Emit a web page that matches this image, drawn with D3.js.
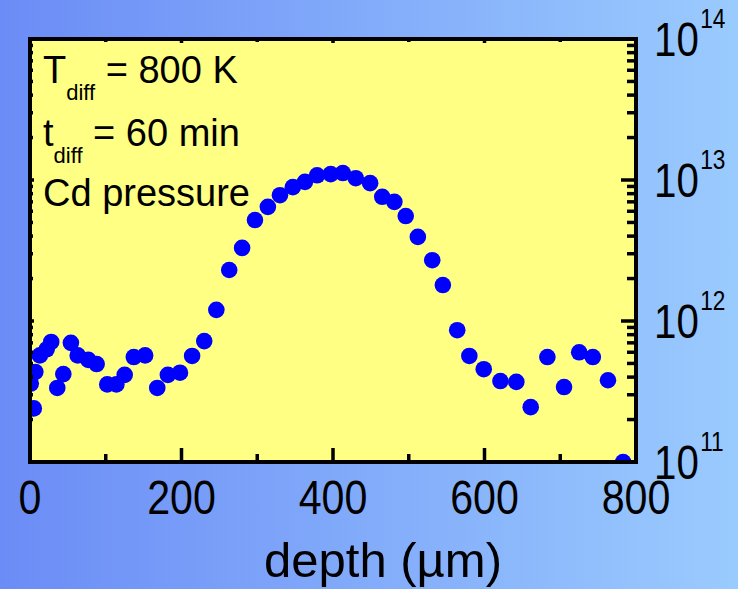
<!DOCTYPE html>
<html>
<head>
<meta charset="utf-8">
<script src="https://cdn.jsdelivr.net/npm/d3@7"></script>
<style>
	html, body { margin: 0; padding: 0; }
	svg { display: block; font-family: "Liberation Sans", Arial, sans-serif; }
</style>
</head>
<body>
<div id="chart"></div>
<script>
// depth (µm) and concentration
var depth = [1, 5, 7, 13, 22, 28, 36, 44, 54, 63, 77, 88, 102, 114, 125, 137, 152, 168, 182, 198,
	214, 230, 246, 263, 280, 297, 314, 330, 347, 363, 379, 397, 413, 430, 449, 465, 481, 496, 512,
	531, 545, 564, 580, 599, 621, 642, 661, 683, 705, 725, 743, 763, 783];
var conc = [3.6e11, 2.4e11, 4.35e11, 5.7e11, 6.3e11, 7.1e11, 3.35e11, 4.2e11, 7.0e11, 5.7e11,
	5.3e11, 4.95e11, 3.55e11, 3.55e11, 4.15e11, 5.55e11, 5.7e11, 3.35e11, 4.15e11, 4.3e11,
	5.65e11, 7.2e11, 1.2e12, 2.3e12, 3.3e12, 5.2e12, 6.45e12, 7.8e12, 8.9e12, 9.7e12,
	1.08e13, 1.10e13, 1.12e13, 1.03e13, 9.5e12, 7.6e12, 7.0e12, 5.55e12, 3.95e12, 2.7e12,
	1.8e12, 8.6e11, 5.65e11, 4.55e11, 3.75e11, 3.7e11, 2.45e11, 5.55e11, 3.4e11, 6.0e11,
	5.55e11, 3.8e11, 1.0e11];
var xTicks = [0, 200, 400, 600, 800];
var xMinorTicks = [100, 300, 500, 700];
var yDecades = [11, 12, 13, 14];
var notes = [
	{ main: "T", sub: "diff", rest: " = 800 K" },
	{ main: "t", sub: "diff", rest: " = 60 min" },
	{ main: "Cd pressure", sub: null, rest: null }
];
var xTitle = "depth (µm)";

var W = 738, H = 589;
var margin = { top: 39, right: 102, bottom: 127, left: 30 };
var pw = W - margin.left - margin.right;
var ph = H - margin.top - margin.bottom;

var svg = d3.select("#chart").append("svg")
	.attr("width", W)
	.attr("height", H);

var defs = svg.append("defs");
var grad = defs.append("linearGradient")
	.attr("id", "bg")
	.attr("x1", "0%").attr("y1", "0%")
	.attr("x2", "100%").attr("y2", "0%");
grad.append("stop").attr("offset", "0%").attr("stop-color", "#6b8cf6");
grad.append("stop").attr("offset", "100%").attr("stop-color", "#9acbfe");

defs.append("clipPath").attr("id", "plotclip")
	.append("rect")
	.attr("x", 0).attr("y", 0)
	.attr("width", pw).attr("height", ph);

svg.append("rect")
	.attr("width", W).attr("height", H)
	.attr("fill", "url(#bg)");

var x = d3.scaleLinear().domain([0, 800]).range([0, pw]);
var y = d3.scaleLog().domain([1e11, 1e14]).range([ph, 0]);

var g = svg.append("g")
	.attr("transform", "translate(" + margin.left + "," + margin.top + ")");

g.append("rect")
	.attr("width", pw).attr("height", ph)
	.attr("fill", "#ffff84");

// annotation
notes.forEach(function(n, i) {
	var t = g.append("text")
		.attr("x", 13)
		.attr("y", [44, 107, 167][i])
		.attr("font-size", 38)
		.attr("fill", "#000");
	t.append("tspan").text(n.main);
	if (n.sub) {
		t.append("tspan").attr("font-size", 22).attr("dy", 17).text(n.sub);
		t.append("tspan").attr("dy", -17).text(n.rest);
	}
});

// points
g.append("g")
	.attr("clip-path", "url(#plotclip)")
	.selectAll("circle")
	.data(depth)
	.join("circle")
	.attr("cx", function(d) { return x(d); })
	.attr("cy", function(d, i) { return y(conc[i]); })
	.attr("r", 8.3)
	.attr("fill", "#0000ff");

// ticks
var tickW = 3.5;
var minorY = [];
yDecades.slice(0, -1).forEach(function(e) {
	for (var k = 2; k <= 9; k++) minorY.push(k * Math.pow(10, e));
});

function tick(x1, y1, x2, y2) {
	g.append("line")
		.attr("x1", x1).attr("y1", y1)
		.attr("x2", x2).attr("y2", y2)
		.attr("stroke", "#000")
		.attr("stroke-width", tickW);
}

xTicks.forEach(function(d) {
	tick(x(d), ph, x(d), ph - 14);
	tick(x(d), 0, x(d), 4);
});
xMinorTicks.forEach(function(d) {
	tick(x(d), ph, x(d), ph - 8);
	tick(x(d), 0, x(d), 3);
});
yDecades.forEach(function(e) {
	var v = Math.pow(10, e);
	tick(pw, y(v), pw - 15, y(v));
	tick(0, y(v), 4, y(v));
});
minorY.forEach(function(v) {
	tick(pw, y(v), pw - 9, y(v));
	tick(0, y(v), 3, y(v));
});

// frame
g.append("rect")
	.attr("width", pw).attr("height", ph)
	.attr("fill", "none")
	.attr("stroke", "#000")
	.attr("stroke-width", 4);

// x tick labels
xTicks.forEach(function(d) {
	g.append("g")
		.attr("transform", "translate(" + x(d) + "," + (ph + 52) + ") scale(0.84,1)")
		.append("text")
		.attr("text-anchor", "middle")
		.attr("font-size", 49)
		.attr("fill", "#000")
		.text(d3.format("d")(d));
});

// y tick labels, 10^n
yDecades.forEach(function(e) {
	var lab = g.append("g")
		.attr("transform", "translate(" + (pw + 18) + "," + (y(Math.pow(10, e)) + 17) + ") scale(0.84,1)");
	lab.append("text")
		.attr("font-size", 48)
		.attr("fill", "#000")
		.text("10");
	lab.append("text")
		.attr("x", 55)
		.attr("y", -28)
		.attr("font-size", 27)
		.attr("fill", "#000")
		.text(e);
});

// axis title
svg.append("text")
	.attr("x", 383)
	.attr("y", 577)
	.attr("text-anchor", "middle")
	.attr("font-size", 49)
	.attr("fill", "#000")
	.text(xTitle);
</script>
</body>
</html>
